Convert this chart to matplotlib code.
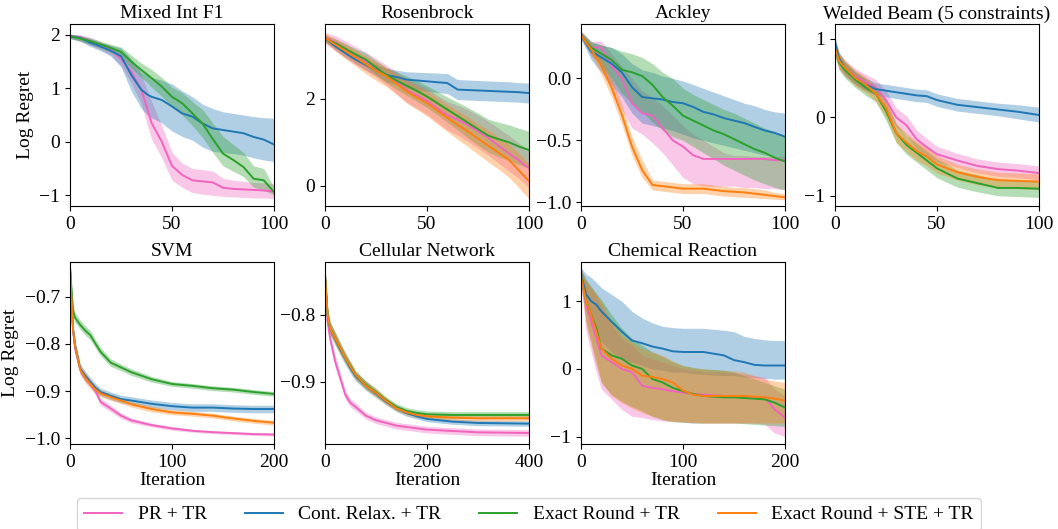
import matplotlib

matplotlib.use("Agg")
import matplotlib.pyplot as plt

plt.rcParams["font.family"] = ["Liberation Serif", "DejaVu Sans"]

METHODS = ["PR + TR", "Cont. Relax. + TR", "Exact Round + TR", "Exact Round + STE + TR"]
COLORS = ["#f064be", "#1f77b4", "#2ca02c", "#ff7f0e"]

# ---- Mixed Int F1 ----
MIF_X = [0, 5, 10, 15, 20, 25, 30, 35, 38, 40, 45, 50, 55, 60, 65, 70, 75, 80, 85, 90, 95, 100]
MIF_PR = [1.97, 1.95, 1.88, 1.8, 1.72, 1.55, 1.31, 0.97, 0.6, 0.35, 0.0, -0.45, -0.62, -0.72, -0.74, -0.76, -0.86, -0.88, -0.89, -0.9, -0.91, -0.93]
MIF_PR_LO = [1.93, 1.88, 1.8, 1.72, 1.62, 1.42, 1.1, 0.7, 0.3, 0.05, -0.3, -0.72, -0.85, -0.95, -0.98, -1.0, -1.02, -1.03, -1.04, -1.05, -1.05, -1.06]
MIF_PR_HI = [2.01, 2.0, 1.95, 1.87, 1.8, 1.68, 1.5, 1.25, 0.95, 0.75, 0.3, -0.2, -0.4, -0.5, -0.52, -0.55, -0.68, -0.72, -0.74, -0.76, -0.77, -0.78]
MIF_CR = [1.97, 1.94, 1.85, 1.78, 1.7, 1.6, 1.25, 0.97, 0.88, 0.84, 0.78, 0.66, 0.53, 0.47, 0.34, 0.25, 0.22, 0.19, 0.16, 0.09, 0.04, -0.05]
MIF_CR_LO = [1.93, 1.88, 1.78, 1.7, 1.6, 1.4, 0.95, 0.62, 0.5, 0.45, 0.35, 0.2, 0.1, 0.03, -0.1, -0.18, -0.2, -0.22, -0.25, -0.3, -0.34, -0.37]
MIF_CR_HI = [2.01, 1.99, 1.92, 1.85, 1.8, 1.75, 1.55, 1.3, 1.25, 1.2, 1.15, 1.08, 0.95, 0.84, 0.7, 0.62, 0.56, 0.53, 0.5, 0.47, 0.45, 0.44]
MIF_ER = [1.97, 1.93, 1.88, 1.82, 1.75, 1.68, 1.5, 1.34, 1.25, 1.19, 1.03, 0.84, 0.72, 0.53, 0.34, 0.05, -0.22, -0.34, -0.47, -0.69, -0.72, -0.94]
MIF_ER_LO = [1.93, 1.88, 1.82, 1.75, 1.67, 1.58, 1.38, 1.2, 1.1, 1.02, 0.85, 0.65, 0.5, 0.3, 0.08, -0.2, -0.45, -0.55, -0.65, -0.85, -0.9, -1.0]
MIF_ER_HI = [2.01, 1.98, 1.94, 1.88, 1.82, 1.77, 1.62, 1.47, 1.4, 1.35, 1.2, 1.02, 0.92, 0.75, 0.6, 0.35, 0.1, -0.05, -0.2, -0.45, -0.5, -0.85]

# ---- Rosenbrock ----
ROS_X = [0, 5, 10, 15, 20, 25, 30, 35, 40, 45, 50, 55, 60, 65, 70, 75, 80, 85, 90, 95, 100]
ROS_PR = [3.4, 3.3, 3.15, 3.0, 2.87, 2.72, 2.56, 2.38, 2.2, 2.08, 1.95, 1.78, 1.62, 1.52, 1.4, 1.25, 1.1, 0.92, 0.75, 0.58, 0.4]
ROS_PR_LO = [3.28, 3.12, 2.95, 2.8, 2.65, 2.5, 2.32, 2.12, 1.92, 1.78, 1.64, 1.46, 1.28, 1.16, 1.02, 0.86, 0.7, 0.52, 0.34, 0.16, -0.05]
ROS_PR_HI = [3.52, 3.45, 3.33, 3.2, 3.07, 2.93, 2.78, 2.62, 2.46, 2.36, 2.24, 2.08, 1.94, 1.85, 1.75, 1.62, 1.48, 1.32, 1.16, 0.98, 0.82]
ROS_CR = [3.4, 3.21, 3.05, 2.9, 2.78, 2.66, 2.55, 2.5, 2.44, 2.42, 2.4, 2.38, 2.36, 2.21, 2.2, 2.19, 2.18, 2.17, 2.16, 2.15, 2.13]
ROS_CR_LO = [3.33, 3.12, 2.95, 2.8, 2.66, 2.53, 2.4, 2.32, 2.24, 2.2, 2.17, 2.14, 2.12, 1.98, 1.97, 1.96, 1.95, 1.94, 1.93, 1.92, 1.9]
ROS_CR_HI = [3.47, 3.3, 3.15, 3.0, 2.9, 2.8, 2.7, 2.66, 2.62, 2.61, 2.6, 2.59, 2.58, 2.44, 2.43, 2.42, 2.41, 2.4, 2.39, 2.37, 2.36]
ROS_ER = [3.38, 3.28, 3.15, 3.02, 2.9, 2.72, 2.55, 2.42, 2.3, 2.18, 2.05, 1.9, 1.75, 1.6, 1.45, 1.3, 1.15, 1.07, 1.0, 0.9, 0.82]
ROS_ER_LO = [3.3, 3.18, 3.02, 2.88, 2.74, 2.55, 2.37, 2.22, 2.08, 1.94, 1.8, 1.63, 1.46, 1.28, 1.1, 0.93, 0.77, 0.67, 0.58, 0.48, 0.4]
ROS_ER_HI = [3.46, 3.38, 3.27, 3.15, 3.05, 2.88, 2.72, 2.62, 2.52, 2.42, 2.3, 2.17, 2.04, 1.92, 1.8, 1.67, 1.53, 1.46, 1.4, 1.32, 1.25]
ROS_STE = [3.4, 3.25, 3.1, 2.95, 2.8, 2.65, 2.52, 2.35, 2.17, 2.03, 1.9, 1.73, 1.56, 1.4, 1.25, 1.08, 0.92, 0.76, 0.6, 0.35, 0.1]
ROS_STE_LO = [3.3, 3.1, 2.92, 2.75, 2.58, 2.42, 2.28, 2.1, 1.9, 1.75, 1.6, 1.42, 1.24, 1.06, 0.9, 0.72, 0.55, 0.38, 0.2, -0.05, -0.3]
ROS_STE_HI = [3.5, 3.38, 3.25, 3.12, 2.98, 2.85, 2.72, 2.58, 2.42, 2.3, 2.18, 2.02, 1.87, 1.72, 1.58, 1.42, 1.28, 1.12, 0.97, 0.75, 0.5]

# ---- Ackley ----
ACK_X = [0, 5, 10, 15, 20, 25, 30, 35, 40, 45, 50, 55, 60, 65, 70, 75, 80, 85, 90, 95, 100]
ACK_PR = [0.35, 0.25, 0.25, 0.1, 0.0, -0.2, -0.28, -0.3, -0.4, -0.5, -0.55, -0.62, -0.65, -0.65, -0.65, -0.65, -0.65, -0.65, -0.65, -0.66, -0.66]
ACK_PR_LO = [0.32, 0.18, 0.12, -0.08, -0.25, -0.4, -0.45, -0.52, -0.6, -0.7, -0.8, -0.85, -0.87, -0.87, -0.87, -0.87, -0.88, -0.88, -0.89, -0.89, -0.9]
ACK_PR_HI = [0.38, 0.3, 0.3, 0.2, 0.1, 0.0, -0.1, -0.15, -0.22, -0.3, -0.38, -0.45, -0.5, -0.55, -0.6, -0.62, -0.62, -0.63, -0.63, -0.63, -0.63]
ACK_CR = [0.35, 0.22, 0.17, 0.12, 0.05, -0.07, -0.15, -0.16, -0.17, -0.19, -0.2, -0.23, -0.27, -0.29, -0.32, -0.34, -0.36, -0.39, -0.42, -0.44, -0.47]
ACK_CR_LO = [0.32, 0.15, 0.05, -0.05, -0.15, -0.28, -0.36, -0.38, -0.4, -0.42, -0.45, -0.48, -0.5, -0.52, -0.54, -0.56, -0.58, -0.6, -0.62, -0.63, -0.65]
ACK_CR_HI = [0.38, 0.29, 0.27, 0.25, 0.2, 0.12, 0.07, 0.05, 0.02, 0.0, -0.02, -0.05, -0.08, -0.11, -0.14, -0.17, -0.2, -0.22, -0.25, -0.27, -0.28]
ACK_ER = [0.35, 0.25, 0.2, 0.15, 0.07, 0.05, 0.02, -0.05, -0.15, -0.22, -0.3, -0.34, -0.38, -0.42, -0.45, -0.49, -0.53, -0.57, -0.6, -0.64, -0.67]
ACK_ER_LO = [0.32, 0.2, 0.1, 0.0, -0.12, -0.2, -0.27, -0.35, -0.42, -0.47, -0.5, -0.55, -0.6, -0.65, -0.7, -0.74, -0.78, -0.82, -0.85, -0.88, -0.9]
ACK_ER_HI = [0.38, 0.3, 0.27, 0.25, 0.22, 0.2, 0.17, 0.12, 0.05, 0.0, -0.08, -0.13, -0.17, -0.21, -0.25, -0.28, -0.32, -0.36, -0.4, -0.43, -0.46]
ACK_STE = [0.35, 0.235, 0.1, -0.075, -0.29, -0.55, -0.74, -0.86, -0.87, -0.88, -0.89, -0.89, -0.89, -0.9, -0.91, -0.915, -0.92, -0.93, -0.94, -0.95, -0.96]
ACK_STE_LO = [0.33, 0.19, 0.03, -0.15, -0.37, -0.62, -0.8, -0.9, -0.91, -0.92, -0.93, -0.93, -0.93, -0.94, -0.95, -0.955, -0.96, -0.965, -0.97, -0.975, -0.98]
ACK_STE_HI = [0.37, 0.28, 0.17, 0.0, -0.21, -0.47, -0.66, -0.82, -0.83, -0.84, -0.85, -0.85, -0.85, -0.86, -0.87, -0.88, -0.88, -0.89, -0.9, -0.92, -0.93]

# ---- Welded Beam ----
WB_X = [0, 2, 5, 10, 15, 20, 25, 30, 35, 40, 45, 50, 60, 70, 80, 90, 100]
WB_PR = [0.9, 0.72, 0.62, 0.52, 0.45, 0.38, 0.22, 0.0, -0.1, -0.28, -0.38, -0.47, -0.55, -0.62, -0.66, -0.68, -0.71]
WB_PR_LO = [0.8, 0.62, 0.52, 0.42, 0.35, 0.28, 0.1, -0.12, -0.22, -0.4, -0.49, -0.57, -0.64, -0.71, -0.75, -0.77, -0.8]
WB_PR_HI = [1.0, 0.82, 0.72, 0.62, 0.55, 0.48, 0.34, 0.12, 0.02, -0.16, -0.27, -0.37, -0.46, -0.53, -0.57, -0.59, -0.62]
WB_CR = [0.95, 0.75, 0.62, 0.5, 0.42, 0.36, 0.34, 0.32, 0.3, 0.28, 0.27, 0.22, 0.16, 0.13, 0.1, 0.07, 0.03]
WB_CR_LO = [0.87, 0.67, 0.54, 0.42, 0.34, 0.28, 0.26, 0.24, 0.22, 0.2, 0.19, 0.14, 0.08, 0.05, 0.02, -0.02, -0.06]
WB_CR_HI = [1.03, 0.83, 0.7, 0.58, 0.5, 0.44, 0.42, 0.4, 0.38, 0.36, 0.35, 0.3, 0.24, 0.21, 0.18, 0.16, 0.13]
WB_ER = [0.88, 0.7, 0.6, 0.48, 0.38, 0.3, 0.08, -0.2, -0.35, -0.45, -0.55, -0.65, -0.78, -0.84, -0.9, -0.9, -0.91]
WB_ER_LO = [0.78, 0.6, 0.5, 0.38, 0.28, 0.2, -0.04, -0.32, -0.47, -0.57, -0.67, -0.77, -0.89, -0.95, -1.0, -1.01, -1.02]
WB_ER_HI = [0.98, 0.8, 0.7, 0.58, 0.48, 0.4, 0.2, -0.08, -0.23, -0.33, -0.43, -0.53, -0.67, -0.73, -0.8, -0.8, -0.8]
WB_STE = [0.88, 0.72, 0.63, 0.5, 0.42, 0.3, 0.12, -0.2, -0.32, -0.43, -0.5, -0.6, -0.7, -0.76, -0.8, -0.81, -0.82]
WB_STE_LO = [0.78, 0.62, 0.53, 0.4, 0.32, 0.2, 0.0, -0.32, -0.44, -0.55, -0.62, -0.71, -0.8, -0.86, -0.9, -0.91, -0.92]
WB_STE_HI = [0.98, 0.82, 0.73, 0.6, 0.52, 0.4, 0.24, -0.08, -0.2, -0.31, -0.38, -0.49, -0.6, -0.66, -0.7, -0.71, -0.72]

# ---- SVM ----
SVM_X = [0, 3, 5, 10, 15, 20, 25, 30, 40, 50, 60, 80, 100, 120, 140, 160, 180, 200]
SVM_PR = [-0.64, -0.77, -0.81, -0.855, -0.872, -0.885, -0.9, -0.923, -0.937, -0.952, -0.962, -0.972, -0.979, -0.984, -0.987, -0.989, -0.991, -0.992]
SVM_PR_LO = [-0.645, -0.78, -0.82, -0.864, -0.881, -0.893, -0.908, -0.93, -0.944, -0.958, -0.967, -0.976, -0.983, -0.987, -0.99, -0.992, -0.994, -0.995]
SVM_PR_HI = [-0.635, -0.76, -0.8, -0.846, -0.863, -0.877, -0.892, -0.916, -0.93, -0.946, -0.957, -0.968, -0.975, -0.981, -0.984, -0.986, -0.988, -0.989]
SVM_CR = [-0.64, -0.77, -0.804, -0.853, -0.868, -0.881, -0.893, -0.902, -0.91, -0.917, -0.92, -0.927, -0.932, -0.935, -0.935, -0.937, -0.938, -0.938]
SVM_CR_LO = [-0.645, -0.78, -0.814, -0.863, -0.878, -0.89, -0.902, -0.91, -0.918, -0.925, -0.928, -0.935, -0.94, -0.943, -0.943, -0.945, -0.946, -0.946]
SVM_CR_HI = [-0.635, -0.76, -0.794, -0.843, -0.858, -0.872, -0.884, -0.894, -0.902, -0.909, -0.912, -0.919, -0.924, -0.927, -0.927, -0.929, -0.93, -0.93]
SVM_ER = [-0.64, -0.73, -0.745, -0.76, -0.772, -0.782, -0.8, -0.817, -0.84, -0.85, -0.86, -0.875, -0.885, -0.889, -0.894, -0.897, -0.902, -0.906]
SVM_ER_LO = [-0.645, -0.74, -0.755, -0.77, -0.782, -0.792, -0.809, -0.826, -0.848, -0.857, -0.867, -0.881, -0.89, -0.894, -0.899, -0.902, -0.907, -0.911]
SVM_ER_HI = [-0.635, -0.72, -0.735, -0.75, -0.762, -0.772, -0.791, -0.808, -0.832, -0.843, -0.853, -0.869, -0.88, -0.884, -0.889, -0.892, -0.897, -0.901]
SVM_STE = [-0.64, -0.77, -0.805, -0.855, -0.872, -0.885, -0.897, -0.905, -0.913, -0.92, -0.928, -0.938, -0.945, -0.948, -0.952, -0.958, -0.963, -0.967]
SVM_STE_LO = [-0.645, -0.78, -0.815, -0.865, -0.882, -0.894, -0.905, -0.912, -0.92, -0.926, -0.934, -0.944, -0.95, -0.953, -0.957, -0.963, -0.968, -0.972]
SVM_STE_HI = [-0.635, -0.76, -0.795, -0.845, -0.862, -0.876, -0.889, -0.898, -0.906, -0.914, -0.922, -0.932, -0.94, -0.943, -0.947, -0.953, -0.958, -0.962]

# ---- Cellular Network ----
CN_X = [0, 5, 10, 20, 30, 40, 50, 60, 80, 100, 120, 140, 160, 180, 200, 250, 300, 400]
CN_PR = [-0.74, -0.81, -0.835, -0.87, -0.895, -0.92, -0.932, -0.938, -0.951, -0.958, -0.962, -0.966, -0.968, -0.97, -0.972, -0.974, -0.976, -0.977]
CN_PR_LO = [-0.745, -0.82, -0.845, -0.879, -0.903, -0.927, -0.938, -0.944, -0.956, -0.963, -0.967, -0.971, -0.973, -0.975, -0.977, -0.979, -0.981, -0.982]
CN_PR_HI = [-0.735, -0.8, -0.825, -0.861, -0.887, -0.913, -0.926, -0.932, -0.946, -0.953, -0.957, -0.961, -0.963, -0.965, -0.967, -0.969, -0.971, -0.972]
CN_CR = [-0.74, -0.8, -0.82, -0.836, -0.852, -0.866, -0.88, -0.892, -0.906, -0.918, -0.93, -0.94, -0.947, -0.952, -0.956, -0.96, -0.962, -0.963]
CN_CR_LO = [-0.745, -0.81, -0.829, -0.845, -0.861, -0.875, -0.888, -0.899, -0.913, -0.924, -0.935, -0.945, -0.952, -0.956, -0.96, -0.964, -0.966, -0.967]
CN_CR_HI = [-0.735, -0.79, -0.811, -0.827, -0.843, -0.857, -0.872, -0.885, -0.899, -0.912, -0.925, -0.935, -0.942, -0.948, -0.952, -0.956, -0.958, -0.959]
CN_ER = [-0.74, -0.8, -0.82, -0.835, -0.85, -0.865, -0.877, -0.89, -0.905, -0.916, -0.928, -0.938, -0.944, -0.947, -0.949, -0.95, -0.95, -0.95]
CN_ER_LO = [-0.745, -0.81, -0.829, -0.844, -0.858, -0.872, -0.884, -0.896, -0.911, -0.922, -0.933, -0.943, -0.949, -0.952, -0.954, -0.955, -0.955, -0.955]
CN_ER_HI = [-0.735, -0.79, -0.811, -0.826, -0.842, -0.858, -0.87, -0.884, -0.899, -0.91, -0.923, -0.933, -0.939, -0.942, -0.944, -0.945, -0.945, -0.945]
CN_STE = [-0.74, -0.8, -0.82, -0.835, -0.85, -0.865, -0.878, -0.89, -0.906, -0.917, -0.929, -0.94, -0.946, -0.95, -0.952, -0.954, -0.955, -0.955]
CN_STE_LO = [-0.745, -0.81, -0.829, -0.844, -0.858, -0.872, -0.885, -0.896, -0.912, -0.923, -0.934, -0.944, -0.95, -0.954, -0.956, -0.958, -0.959, -0.959]
CN_STE_HI = [-0.735, -0.79, -0.811, -0.826, -0.842, -0.858, -0.871, -0.884, -0.9, -0.911, -0.924, -0.936, -0.942, -0.946, -0.948, -0.95, -0.951, -0.951]

# ---- Chemical Reaction ----
CH_X = [0, 5, 10, 15, 20, 30, 40, 50, 60, 70, 80, 90, 100, 110, 120, 140, 150, 160, 170, 180, 190, 200]
CH_PR = [1.38, 0.95, 0.7, 0.45, 0.2, 0.1, 0.0, -0.05, -0.25, -0.28, -0.3, -0.33, -0.35, -0.37, -0.38, -0.4, -0.4, -0.41, -0.42, -0.42, -0.6, -0.72]
CH_PR_LO = [1.25, 0.55, 0.25, -0.05, -0.3, -0.45, -0.6, -0.7, -0.72, -0.75, -0.77, -0.78, -0.79, -0.8, -0.8, -0.8, -0.8, -0.8, -0.8, -0.82, -0.95, -1.0]
CH_PR_HI = [1.48, 1.3, 1.2, 1.08, 0.95, 0.65, 0.45, 0.35, 0.2, 0.15, 0.1, 0.05, 0.0, -0.02, -0.04, -0.05, -0.06, -0.08, -0.1, -0.12, -0.3, -0.4]
CH_CR = [1.4, 1.1, 1.0, 0.95, 0.85, 0.7, 0.55, 0.42, 0.38, 0.33, 0.3, 0.26, 0.25, 0.25, 0.25, 0.2, 0.13, 0.1, 0.06, 0.05, 0.05, 0.05]
CH_CR_LO = [1.3, 0.85, 0.7, 0.55, 0.4, 0.25, 0.15, 0.1, 0.05, 0.0, -0.02, -0.05, -0.05, -0.07, -0.08, -0.1, -0.1, -0.12, -0.13, -0.14, -0.15, -0.15]
CH_CR_HI = [1.5, 1.4, 1.35, 1.28, 1.2, 1.1, 1.0, 0.85, 0.75, 0.68, 0.63, 0.61, 0.6, 0.6, 0.6, 0.57, 0.55, 0.48, 0.45, 0.43, 0.42, 0.42]
CH_ER = [1.38, 1.0, 0.8, 0.6, 0.3, 0.2, 0.15, 0.05, 0.0, -0.15, -0.2, -0.28, -0.33, -0.37, -0.4, -0.42, -0.42, -0.43, -0.44, -0.45, -0.5, -0.57]
CH_ER_LO = [1.28, 0.7, 0.4, 0.1, -0.2, -0.38, -0.48, -0.56, -0.62, -0.7, -0.75, -0.78, -0.79, -0.8, -0.8, -0.8, -0.8, -0.81, -0.82, -0.83, -0.84, -0.85]
CH_ER_HI = [1.48, 1.32, 1.22, 1.12, 1.02, 0.8, 0.6, 0.45, 0.35, 0.25, 0.18, 0.1, 0.05, 0.02, 0.0, -0.02, -0.05, -0.1, -0.15, -0.2, -0.25, -0.3]
CH_STE = [1.35, 1.0, 0.8, 0.55, 0.3, 0.15, 0.05, 0.0, -0.1, -0.12, -0.15, -0.2, -0.32, -0.38, -0.4, -0.4, -0.4, -0.4, -0.41, -0.42, -0.44, -0.47]
CH_STE_LO = [1.25, 0.65, 0.35, 0.05, -0.2, -0.4, -0.5, -0.58, -0.65, -0.7, -0.75, -0.77, -0.78, -0.79, -0.8, -0.8, -0.8, -0.8, -0.8, -0.8, -0.8, -0.8]
CH_STE_HI = [1.45, 1.3, 1.2, 1.1, 1.0, 0.7, 0.5, 0.4, 0.3, 0.25, 0.2, 0.12, 0.05, 0.02, 0.0, -0.02, -0.03, -0.05, -0.1, -0.15, -0.18, -0.2]


def draw_panel(ax, title, x, curves, xlim, xticks, ylim, yticks):
    for method_idx, mean, lo, hi in curves:
        color = COLORS[method_idx]
        ax.fill_between(x, lo, hi, color=color, alpha=0.35, linewidth=0)
        ax.plot(x, mean, color=color, linewidth=1.4)
    ax.set_title(title, fontsize=14, pad=4)
    ax.set_xlim(*xlim)
    ax.set_ylim(*ylim)
    ax.set_xticks(xticks)
    ax.set_yticks(yticks)
    ax.tick_params(labelsize=14)


def main():
    fig = plt.figure(figsize=(10.58, 5.29), dpi=100)

    W, H = 1058, 529
    lefts = [70, 325, 581, 835]
    tops = [24, 262]
    aw, ah = 204, 182

    def make_axes(row, col):
        return fig.add_axes([lefts[col] / W, 1 - (tops[row] + ah) / H, aw / W, ah / H])

    panels = [
        (0, 0, "Mixed Int F1", MIF_X,
         [(0, MIF_PR, MIF_PR_LO, MIF_PR_HI), (1, MIF_CR, MIF_CR_LO, MIF_CR_HI),
          (2, MIF_ER, MIF_ER_LO, MIF_ER_HI)],
         (0, 100), [0, 50, 100], (-1.2, 2.2), [-1, 0, 1, 2]),
        (0, 1, "Rosenbrock", ROS_X,
         [(1, ROS_CR, ROS_CR_LO, ROS_CR_HI), (0, ROS_PR, ROS_PR_LO, ROS_PR_HI),
          (2, ROS_ER, ROS_ER_LO, ROS_ER_HI), (3, ROS_STE, ROS_STE_LO, ROS_STE_HI)],
         (0, 100), [0, 50, 100], (-0.47, 3.72), [0, 2]),
        (0, 2, "Ackley", ACK_X,
         [(0, ACK_PR, ACK_PR_LO, ACK_PR_HI), (1, ACK_CR, ACK_CR_LO, ACK_CR_HI),
          (2, ACK_ER, ACK_ER_LO, ACK_ER_HI), (3, ACK_STE, ACK_STE_LO, ACK_STE_HI)],
         (0, 100), [0, 50, 100], (-1.03, 0.44), [-1.0, -0.5, 0.0]),
        (0, 3, "Welded Beam (5 constraints)", WB_X,
         [(0, WB_PR, WB_PR_LO, WB_PR_HI), (1, WB_CR, WB_CR_LO, WB_CR_HI),
          (2, WB_ER, WB_ER_LO, WB_ER_HI), (3, WB_STE, WB_STE_LO, WB_STE_HI)],
         (0, 100), [0, 50, 100], (-1.13, 1.19), [-1, 0, 1]),
        (1, 0, "SVM", SVM_X,
         [(0, SVM_PR, SVM_PR_LO, SVM_PR_HI), (1, SVM_CR, SVM_CR_LO, SVM_CR_HI),
          (2, SVM_ER, SVM_ER_LO, SVM_ER_HI), (3, SVM_STE, SVM_STE_LO, SVM_STE_HI)],
         (0, 200), [0, 100, 200], (-1.012, -0.627), [-1.0, -0.9, -0.8, -0.7]),
        (1, 1, "Cellular Network", CN_X,
         [(0, CN_PR, CN_PR_LO, CN_PR_HI), (1, CN_CR, CN_CR_LO, CN_CR_HI),
          (2, CN_ER, CN_ER_LO, CN_ER_HI), (3, CN_STE, CN_STE_LO, CN_STE_HI)],
         (0, 400), [0, 200, 400], (-0.9935, -0.721), [-0.9, -0.8]),
        (1, 2, "Chemical Reaction", CH_X,
         [(1, CH_CR, CH_CR_LO, CH_CR_HI), (0, CH_PR, CH_PR_LO, CH_PR_HI),
          (2, CH_ER, CH_ER_LO, CH_ER_HI), (3, CH_STE, CH_STE_LO, CH_STE_HI)],
         (0, 200), [0, 100, 200], (-1.11, 1.58), [-1, 0, 1]),
    ]

    for row, col, title, x, curves, xlim, xticks, ylim, yticks in panels:
        ax = make_axes(row, col)
        draw_panel(ax, title, x, curves, xlim, xticks, ylim, yticks)
        if col == 0:
            ax.set_ylabel("Log Regret", fontsize=14)
        if row == 1:
            ax.set_xlabel("Iteration", fontsize=14, labelpad=1)

    handles = [plt.Line2D([], [], color=c, linewidth=1.4) for c in COLORS]
    fig.legend(handles, METHODS, loc="upper center", bbox_to_anchor=(0.5, 1 - 498 / H),
               ncol=4, fontsize=14, frameon=True, handlelength=1.95,
               handletextpad=0.8, columnspacing=1.95, borderaxespad=0)

    fig.savefig("out.png", dpi=100)


if __name__ == "__main__":
    main()
